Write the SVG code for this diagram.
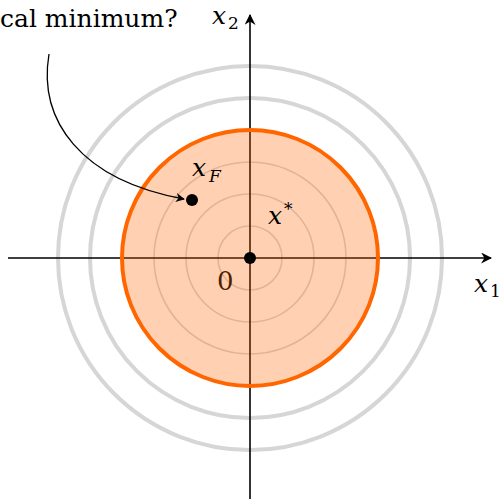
<svg xmlns="http://www.w3.org/2000/svg" width="504" height="499" viewBox="0 0 504 499">
<defs>
<marker id="ah" viewBox="0 0 10 10" refX="9" refY="5" markerWidth="9" markerHeight="9" orient="auto" markerUnits="userSpaceOnUse">
<path d="M0,0 L10,5 L0,10 L3,5 Z" fill="#000"/>
</marker>
<marker id="ah2" viewBox="0 0 10 10" refX="9" refY="5" markerWidth="11" markerHeight="11" orient="auto" markerUnits="userSpaceOnUse">
<path d="M0,0 L10,5 L0,10 L3,5 Z" fill="#000"/>
</marker>
</defs>
<g id="levelsets" fill="none" stroke="#d6d6d6">
<circle cx="250" cy="258" r="192" stroke-width="4"/>
<circle cx="250" cy="258" r="160" stroke-width="4"/>
<circle cx="250" cy="258" r="96" stroke-width="1.6"/>
<circle cx="250" cy="258" r="64" stroke-width="1.6"/>
<circle cx="250" cy="258" r="32" stroke-width="1.6"/>
</g>
<g id="axes">
<line x1="8" y1="258" x2="491" y2="258" stroke="#000" stroke-width="1.6" marker-end="url(#ah2)"/>
<line x1="250" y1="499" x2="250" y2="15" stroke="#000" stroke-width="1.6" marker-end="url(#ah2)"/>
<text x="474" y="292" font-size="25" font-family="DejaVu Serif" font-style="italic">x</text>
<text x="490" y="297" font-size="17" font-family="DejaVu Serif">1</text>
<text x="212" y="24" font-size="25" font-family="DejaVu Serif" font-style="italic">x</text>
<text x="228" y="29" font-size="17" font-family="DejaVu Serif">2</text>
<text x="217" y="290" font-size="26" font-family="DejaVu Serif">0</text>
</g>
<g id="feasible">
<circle cx="250" cy="258" r="128" fill="#ff6600" fill-opacity="0.3" stroke="#ff6600" stroke-width="4"/>
</g>
<g id="xstar">
<circle cx="250" cy="258" r="6" fill="#000"/>
<text x="268" y="224" font-size="25" font-family="DejaVu Serif" font-style="italic">x</text>
<text x="284" y="215" font-size="17" font-family="DejaVu Serif">*</text>
</g>
<g id="xF">
<circle cx="192" cy="200" r="6" fill="#000"/>
<text x="192" y="176" font-size="25" font-family="DejaVu Serif" font-style="italic">x</text>
<text x="209" y="182" font-size="17" font-family="DejaVu Serif" font-style="italic">F</text>
</g>
<g id="note">
<text x="0" y="27" font-size="25" font-family="DejaVu Serif">cal minimum?</text>
</g>
<g id="connectors">
<path d="M49,54 C38,120 80,180 184,199" fill="none" stroke="#000" stroke-width="1.3" marker-end="url(#ah)"/>
</g>
</svg>
